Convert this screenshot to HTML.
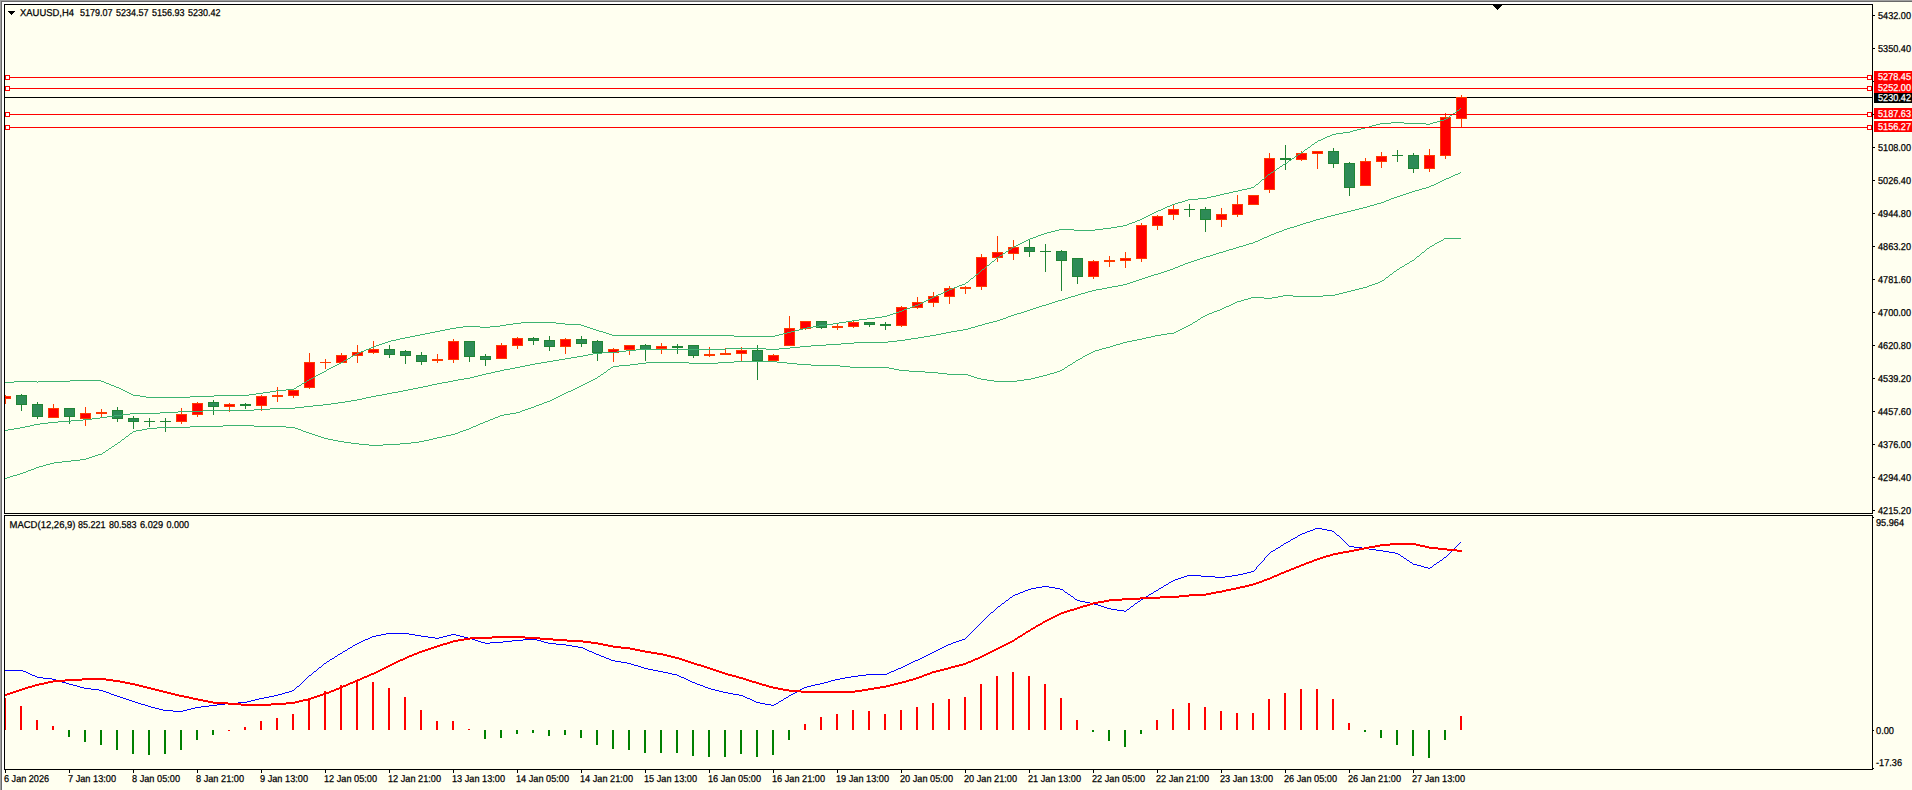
<!DOCTYPE html>
<html><head><meta charset="utf-8"><title>XAUUSD,H4</title>
<style>
html,body{margin:0;padding:0;background:#FFFFF0;overflow:hidden}
svg{display:block}
text{font-family:"Liberation Sans",sans-serif;font-size:10px;text-rendering:geometricPrecision;stroke-width:0.25px;paint-order:stroke fill}
</style></head><body>
<svg width="1912" height="790" viewBox="0 0 1912 790" shape-rendering="crispEdges">
<rect x="0" y="0" width="1912" height="790" fill="#FFFFF0"/>
<rect x="0" y="0" width="1912" height="1" fill="#A0A0A0"/>
<rect x="0" y="1" width="1912" height="1" fill="#696969"/>
<rect x="0" y="0" width="1" height="790" fill="#A0A0A0"/>
<rect x="1" y="1" width="1" height="789" fill="#696969"/>
<rect x="2" y="2" width="1871" height="2" fill="#FFFFFF"/>
<rect x="2" y="2" width="2" height="788" fill="#FFFFFF"/>
<rect x="4" y="4" width="1869" height="1" fill="#000000"/>
<rect x="4" y="4" width="1" height="510" fill="#000000"/>
<rect x="4" y="513" width="1869" height="1" fill="#000000"/>
<rect x="4" y="515" width="1869" height="1" fill="#000000"/>
<rect x="4" y="515" width="1" height="255" fill="#000000"/>
<rect x="4" y="769" width="1869" height="1" fill="#000000"/>
<rect x="1872" y="4" width="1" height="510" fill="#000000"/>
<rect x="1872" y="515" width="1" height="255" fill="#000000"/>
<rect x="1873" y="15" width="2" height="1" fill="#000000"/>
<rect x="1873" y="48" width="2" height="1" fill="#000000"/>
<rect x="1873" y="81" width="2" height="1" fill="#000000"/>
<rect x="1873" y="114" width="2" height="1" fill="#000000"/>
<rect x="1873" y="147" width="2" height="1" fill="#000000"/>
<rect x="1873" y="180" width="2" height="1" fill="#000000"/>
<rect x="1873" y="213" width="2" height="1" fill="#000000"/>
<rect x="1873" y="246" width="2" height="1" fill="#000000"/>
<rect x="1873" y="279" width="2" height="1" fill="#000000"/>
<rect x="1873" y="312" width="2" height="1" fill="#000000"/>
<rect x="1873" y="345" width="2" height="1" fill="#000000"/>
<rect x="1873" y="378" width="2" height="1" fill="#000000"/>
<rect x="1873" y="411" width="2" height="1" fill="#000000"/>
<rect x="1873" y="444" width="2" height="1" fill="#000000"/>
<rect x="1873" y="477" width="2" height="1" fill="#000000"/>
<rect x="1873" y="510" width="2" height="1" fill="#000000"/>
<rect x="1873" y="517" width="1" height="1" fill="#000000"/>
<rect x="1873" y="730" width="1" height="1" fill="#000000"/>
<rect x="1873" y="768" width="1" height="1" fill="#000000"/>
<rect x="5" y="770" width="1" height="3" fill="#000000"/>
<rect x="69" y="770" width="1" height="3" fill="#000000"/>
<rect x="133" y="770" width="1" height="3" fill="#000000"/>
<rect x="197" y="770" width="1" height="3" fill="#000000"/>
<rect x="261" y="770" width="1" height="3" fill="#000000"/>
<rect x="325" y="770" width="1" height="3" fill="#000000"/>
<rect x="389" y="770" width="1" height="3" fill="#000000"/>
<rect x="453" y="770" width="1" height="3" fill="#000000"/>
<rect x="517" y="770" width="1" height="3" fill="#000000"/>
<rect x="581" y="770" width="1" height="3" fill="#000000"/>
<rect x="645" y="770" width="1" height="3" fill="#000000"/>
<rect x="709" y="770" width="1" height="3" fill="#000000"/>
<rect x="773" y="770" width="1" height="3" fill="#000000"/>
<rect x="837" y="770" width="1" height="3" fill="#000000"/>
<rect x="901" y="770" width="1" height="3" fill="#000000"/>
<rect x="965" y="770" width="1" height="3" fill="#000000"/>
<rect x="1029" y="770" width="1" height="3" fill="#000000"/>
<rect x="1093" y="770" width="1" height="3" fill="#000000"/>
<rect x="1157" y="770" width="1" height="3" fill="#000000"/>
<rect x="1221" y="770" width="1" height="3" fill="#000000"/>
<rect x="1285" y="770" width="1" height="3" fill="#000000"/>
<rect x="1349" y="770" width="1" height="3" fill="#000000"/>
<rect x="1413" y="770" width="1" height="3" fill="#000000"/>
<rect x="1493" y="5" width="9" height="1" fill="#000000"/>
<rect x="1494" y="6" width="7" height="1" fill="#000000"/>
<rect x="1495" y="7" width="5" height="1" fill="#000000"/>
<rect x="1496" y="8" width="3" height="1" fill="#000000"/>
<rect x="1497" y="9" width="1" height="1" fill="#000000"/>
<rect x="8" y="11" width="7" height="1" fill="#000000"/>
<rect x="9" y="12" width="5" height="1" fill="#000000"/>
<rect x="10" y="13" width="3" height="1" fill="#000000"/>
<rect x="11" y="14" width="1" height="1" fill="#000000"/>
<rect x="5" y="97" width="1867" height="1" fill="#000000"/>
<rect x="5" y="395" width="1" height="9" fill="#FF3A00"/>
<rect x="5" y="396" width="6" height="3" fill="#FF3A00"/>
<rect x="5" y="397" width="5" height="1" fill="#FF0000"/>
<rect x="21" y="394" width="1" height="17" fill="#1F8434"/>
<rect x="16" y="395" width="11" height="10" fill="#1F8434"/>
<rect x="17" y="396" width="9" height="8" fill="#2E8B57"/>
<rect x="37" y="402" width="1" height="17" fill="#1F8434"/>
<rect x="32" y="404" width="11" height="13" fill="#1F8434"/>
<rect x="33" y="405" width="9" height="11" fill="#2E8B57"/>
<rect x="53" y="404" width="1" height="14" fill="#FF3A00"/>
<rect x="48" y="408" width="11" height="10" fill="#FF3A00"/>
<rect x="49" y="409" width="9" height="8" fill="#FF0000"/>
<rect x="69" y="408" width="1" height="16" fill="#1F8434"/>
<rect x="64" y="408" width="11" height="9" fill="#1F8434"/>
<rect x="65" y="409" width="9" height="7" fill="#2E8B57"/>
<rect x="85" y="407" width="1" height="19" fill="#FF3A00"/>
<rect x="80" y="413" width="11" height="6" fill="#FF3A00"/>
<rect x="81" y="414" width="9" height="4" fill="#FF0000"/>
<rect x="101" y="409" width="1" height="8" fill="#FF3A00"/>
<rect x="96" y="412" width="11" height="2" fill="#FF3A00"/>
<rect x="117" y="407" width="1" height="15" fill="#1F8434"/>
<rect x="112" y="410" width="11" height="9" fill="#1F8434"/>
<rect x="113" y="411" width="9" height="7" fill="#2E8B57"/>
<rect x="133" y="416" width="1" height="13" fill="#1F8434"/>
<rect x="128" y="418" width="11" height="4" fill="#1F8434"/>
<rect x="129" y="419" width="9" height="2" fill="#2E8B57"/>
<rect x="149" y="418" width="1" height="9" fill="#1F8434"/>
<rect x="144" y="421" width="11" height="1" fill="#1F8434"/>
<rect x="165" y="418" width="1" height="14" fill="#1F8434"/>
<rect x="160" y="421" width="11" height="1" fill="#1F8434"/>
<rect x="181" y="408" width="1" height="16" fill="#FF3A00"/>
<rect x="176" y="414" width="11" height="8" fill="#FF3A00"/>
<rect x="177" y="415" width="9" height="6" fill="#FF0000"/>
<rect x="197" y="402" width="1" height="15" fill="#FF3A00"/>
<rect x="192" y="403" width="11" height="12" fill="#FF3A00"/>
<rect x="193" y="404" width="9" height="10" fill="#FF0000"/>
<rect x="213" y="400" width="1" height="15" fill="#1F8434"/>
<rect x="208" y="402" width="11" height="5" fill="#1F8434"/>
<rect x="209" y="403" width="9" height="3" fill="#2E8B57"/>
<rect x="229" y="403" width="1" height="9" fill="#FF3A00"/>
<rect x="224" y="404" width="11" height="3" fill="#FF3A00"/>
<rect x="225" y="405" width="9" height="1" fill="#FF0000"/>
<rect x="245" y="403" width="1" height="6" fill="#1F8434"/>
<rect x="240" y="404" width="11" height="2" fill="#1F8434"/>
<rect x="261" y="395" width="1" height="16" fill="#FF3A00"/>
<rect x="256" y="396" width="11" height="10" fill="#FF3A00"/>
<rect x="257" y="397" width="9" height="8" fill="#FF0000"/>
<rect x="277" y="387" width="1" height="15" fill="#FF3A00"/>
<rect x="272" y="395" width="11" height="2" fill="#FF3A00"/>
<rect x="293" y="390" width="1" height="8" fill="#FF3A00"/>
<rect x="288" y="390" width="11" height="6" fill="#FF3A00"/>
<rect x="289" y="391" width="9" height="4" fill="#FF0000"/>
<rect x="309" y="353" width="1" height="36" fill="#FF3A00"/>
<rect x="304" y="362" width="11" height="26" fill="#FF3A00"/>
<rect x="305" y="363" width="9" height="24" fill="#FF0000"/>
<rect x="325" y="359" width="1" height="10" fill="#FF3A00"/>
<rect x="320" y="362" width="11" height="1" fill="#FF3A00"/>
<rect x="341" y="353" width="1" height="10" fill="#FF3A00"/>
<rect x="336" y="355" width="11" height="8" fill="#FF3A00"/>
<rect x="337" y="356" width="9" height="6" fill="#FF0000"/>
<rect x="357" y="345" width="1" height="18" fill="#FF3A00"/>
<rect x="352" y="352" width="11" height="4" fill="#FF3A00"/>
<rect x="353" y="353" width="9" height="2" fill="#FF0000"/>
<rect x="373" y="341" width="1" height="13" fill="#FF3A00"/>
<rect x="368" y="349" width="11" height="4" fill="#FF3A00"/>
<rect x="369" y="350" width="9" height="2" fill="#FF0000"/>
<rect x="389" y="345" width="1" height="13" fill="#1F8434"/>
<rect x="384" y="349" width="11" height="6" fill="#1F8434"/>
<rect x="385" y="350" width="9" height="4" fill="#2E8B57"/>
<rect x="405" y="350" width="1" height="14" fill="#1F8434"/>
<rect x="400" y="351" width="11" height="5" fill="#1F8434"/>
<rect x="401" y="352" width="9" height="3" fill="#2E8B57"/>
<rect x="421" y="352" width="1" height="13" fill="#1F8434"/>
<rect x="416" y="355" width="11" height="7" fill="#1F8434"/>
<rect x="417" y="356" width="9" height="5" fill="#2E8B57"/>
<rect x="437" y="354" width="1" height="9" fill="#FF3A00"/>
<rect x="432" y="359" width="11" height="2" fill="#FF3A00"/>
<rect x="453" y="339" width="1" height="24" fill="#FF3A00"/>
<rect x="448" y="341" width="11" height="19" fill="#FF3A00"/>
<rect x="449" y="342" width="9" height="17" fill="#FF0000"/>
<rect x="469" y="341" width="1" height="21" fill="#1F8434"/>
<rect x="464" y="341" width="11" height="16" fill="#1F8434"/>
<rect x="465" y="342" width="9" height="14" fill="#2E8B57"/>
<rect x="485" y="354" width="1" height="12" fill="#1F8434"/>
<rect x="480" y="356" width="11" height="4" fill="#1F8434"/>
<rect x="481" y="357" width="9" height="2" fill="#2E8B57"/>
<rect x="501" y="343" width="1" height="16" fill="#FF3A00"/>
<rect x="496" y="345" width="11" height="14" fill="#FF3A00"/>
<rect x="497" y="346" width="9" height="12" fill="#FF0000"/>
<rect x="517" y="337" width="1" height="12" fill="#FF3A00"/>
<rect x="512" y="338" width="11" height="8" fill="#FF3A00"/>
<rect x="513" y="339" width="9" height="6" fill="#FF0000"/>
<rect x="533" y="337" width="1" height="8" fill="#1F8434"/>
<rect x="528" y="338" width="11" height="3" fill="#1F8434"/>
<rect x="529" y="339" width="9" height="1" fill="#2E8B57"/>
<rect x="549" y="336" width="1" height="15" fill="#1F8434"/>
<rect x="544" y="340" width="11" height="7" fill="#1F8434"/>
<rect x="545" y="341" width="9" height="5" fill="#2E8B57"/>
<rect x="565" y="338" width="1" height="16" fill="#FF3A00"/>
<rect x="560" y="339" width="11" height="8" fill="#FF3A00"/>
<rect x="561" y="340" width="9" height="6" fill="#FF0000"/>
<rect x="581" y="336" width="1" height="11" fill="#1F8434"/>
<rect x="576" y="339" width="11" height="5" fill="#1F8434"/>
<rect x="577" y="340" width="9" height="3" fill="#2E8B57"/>
<rect x="597" y="340" width="1" height="21" fill="#1F8434"/>
<rect x="592" y="341" width="11" height="12" fill="#1F8434"/>
<rect x="593" y="342" width="9" height="10" fill="#2E8B57"/>
<rect x="613" y="348" width="1" height="14" fill="#FF3A00"/>
<rect x="608" y="349" width="11" height="4" fill="#FF3A00"/>
<rect x="609" y="350" width="9" height="2" fill="#FF0000"/>
<rect x="629" y="345" width="1" height="10" fill="#FF3A00"/>
<rect x="624" y="345" width="11" height="5" fill="#FF3A00"/>
<rect x="625" y="346" width="9" height="3" fill="#FF0000"/>
<rect x="645" y="344" width="1" height="17" fill="#1F8434"/>
<rect x="640" y="345" width="11" height="5" fill="#1F8434"/>
<rect x="641" y="346" width="9" height="3" fill="#2E8B57"/>
<rect x="661" y="343" width="1" height="11" fill="#FF3A00"/>
<rect x="656" y="346" width="11" height="3" fill="#FF3A00"/>
<rect x="657" y="347" width="9" height="1" fill="#FF0000"/>
<rect x="677" y="344" width="1" height="10" fill="#1F8434"/>
<rect x="672" y="346" width="11" height="2" fill="#1F8434"/>
<rect x="693" y="345" width="1" height="13" fill="#1F8434"/>
<rect x="688" y="345" width="11" height="11" fill="#1F8434"/>
<rect x="689" y="346" width="9" height="9" fill="#2E8B57"/>
<rect x="709" y="347" width="1" height="10" fill="#FF3A00"/>
<rect x="704" y="354" width="11" height="2" fill="#FF3A00"/>
<rect x="725" y="348" width="1" height="7" fill="#FF3A00"/>
<rect x="720" y="353" width="11" height="2" fill="#FF3A00"/>
<rect x="741" y="347" width="1" height="14" fill="#FF3A00"/>
<rect x="736" y="350" width="11" height="4" fill="#FF3A00"/>
<rect x="737" y="351" width="9" height="2" fill="#FF0000"/>
<rect x="757" y="345" width="1" height="35" fill="#1F8434"/>
<rect x="752" y="350" width="11" height="11" fill="#1F8434"/>
<rect x="753" y="351" width="9" height="9" fill="#2E8B57"/>
<rect x="773" y="354" width="1" height="7" fill="#FF3A00"/>
<rect x="768" y="355" width="11" height="6" fill="#FF3A00"/>
<rect x="769" y="356" width="9" height="4" fill="#FF0000"/>
<rect x="789" y="316" width="1" height="30" fill="#FF3A00"/>
<rect x="784" y="328" width="11" height="18" fill="#FF3A00"/>
<rect x="785" y="329" width="9" height="16" fill="#FF0000"/>
<rect x="805" y="321" width="1" height="9" fill="#FF3A00"/>
<rect x="800" y="321" width="11" height="8" fill="#FF3A00"/>
<rect x="801" y="322" width="9" height="6" fill="#FF0000"/>
<rect x="821" y="321" width="1" height="8" fill="#1F8434"/>
<rect x="816" y="321" width="11" height="7" fill="#1F8434"/>
<rect x="817" y="322" width="9" height="5" fill="#2E8B57"/>
<rect x="837" y="324" width="1" height="6" fill="#FF3A00"/>
<rect x="832" y="326" width="11" height="2" fill="#FF3A00"/>
<rect x="853" y="321" width="1" height="7" fill="#FF3A00"/>
<rect x="848" y="322" width="11" height="5" fill="#FF3A00"/>
<rect x="849" y="323" width="9" height="3" fill="#FF0000"/>
<rect x="869" y="322" width="1" height="5" fill="#1F8434"/>
<rect x="864" y="322" width="11" height="3" fill="#1F8434"/>
<rect x="865" y="323" width="9" height="1" fill="#2E8B57"/>
<rect x="885" y="322" width="1" height="8" fill="#1F8434"/>
<rect x="880" y="324" width="11" height="2" fill="#1F8434"/>
<rect x="901" y="306" width="1" height="21" fill="#FF3A00"/>
<rect x="896" y="307" width="11" height="19" fill="#FF3A00"/>
<rect x="897" y="308" width="9" height="17" fill="#FF0000"/>
<rect x="917" y="297" width="1" height="12" fill="#FF3A00"/>
<rect x="912" y="302" width="11" height="6" fill="#FF3A00"/>
<rect x="913" y="303" width="9" height="4" fill="#FF0000"/>
<rect x="933" y="292" width="1" height="15" fill="#FF3A00"/>
<rect x="928" y="296" width="11" height="7" fill="#FF3A00"/>
<rect x="929" y="297" width="9" height="5" fill="#FF0000"/>
<rect x="949" y="286" width="1" height="18" fill="#FF3A00"/>
<rect x="944" y="288" width="11" height="9" fill="#FF3A00"/>
<rect x="945" y="289" width="9" height="7" fill="#FF0000"/>
<rect x="965" y="286" width="1" height="8" fill="#FF3A00"/>
<rect x="960" y="287" width="11" height="2" fill="#FF3A00"/>
<rect x="981" y="254" width="1" height="36" fill="#FF3A00"/>
<rect x="976" y="257" width="11" height="30" fill="#FF3A00"/>
<rect x="977" y="258" width="9" height="28" fill="#FF0000"/>
<rect x="997" y="236" width="1" height="26" fill="#FF3A00"/>
<rect x="992" y="252" width="11" height="6" fill="#FF3A00"/>
<rect x="993" y="253" width="9" height="4" fill="#FF0000"/>
<rect x="1013" y="240" width="1" height="20" fill="#FF3A00"/>
<rect x="1008" y="247" width="11" height="7" fill="#FF3A00"/>
<rect x="1009" y="248" width="9" height="5" fill="#FF0000"/>
<rect x="1029" y="239" width="1" height="18" fill="#1F8434"/>
<rect x="1024" y="247" width="11" height="5" fill="#1F8434"/>
<rect x="1025" y="248" width="9" height="3" fill="#2E8B57"/>
<rect x="1045" y="244" width="1" height="28" fill="#1F8434"/>
<rect x="1040" y="251" width="11" height="1" fill="#1F8434"/>
<rect x="1061" y="250" width="1" height="41" fill="#1F8434"/>
<rect x="1056" y="251" width="11" height="10" fill="#1F8434"/>
<rect x="1057" y="252" width="9" height="8" fill="#2E8B57"/>
<rect x="1077" y="258" width="1" height="26" fill="#1F8434"/>
<rect x="1072" y="258" width="11" height="19" fill="#1F8434"/>
<rect x="1073" y="259" width="9" height="17" fill="#2E8B57"/>
<rect x="1093" y="260" width="1" height="19" fill="#FF3A00"/>
<rect x="1088" y="261" width="11" height="16" fill="#FF3A00"/>
<rect x="1089" y="262" width="9" height="14" fill="#FF0000"/>
<rect x="1109" y="256" width="1" height="11" fill="#FF3A00"/>
<rect x="1104" y="260" width="11" height="2" fill="#FF3A00"/>
<rect x="1125" y="252" width="1" height="16" fill="#FF3A00"/>
<rect x="1120" y="258" width="11" height="3" fill="#FF3A00"/>
<rect x="1121" y="259" width="9" height="1" fill="#FF0000"/>
<rect x="1141" y="223" width="1" height="39" fill="#FF3A00"/>
<rect x="1136" y="225" width="11" height="34" fill="#FF3A00"/>
<rect x="1137" y="226" width="9" height="32" fill="#FF0000"/>
<rect x="1157" y="215" width="1" height="15" fill="#FF3A00"/>
<rect x="1152" y="216" width="11" height="10" fill="#FF3A00"/>
<rect x="1153" y="217" width="9" height="8" fill="#FF0000"/>
<rect x="1173" y="205" width="1" height="15" fill="#FF3A00"/>
<rect x="1168" y="209" width="11" height="6" fill="#FF3A00"/>
<rect x="1169" y="210" width="9" height="4" fill="#FF0000"/>
<rect x="1189" y="204" width="1" height="13" fill="#1F8434"/>
<rect x="1184" y="209" width="11" height="1" fill="#1F8434"/>
<rect x="1205" y="207" width="1" height="25" fill="#1F8434"/>
<rect x="1200" y="209" width="11" height="11" fill="#1F8434"/>
<rect x="1201" y="210" width="9" height="9" fill="#2E8B57"/>
<rect x="1221" y="208" width="1" height="19" fill="#FF3A00"/>
<rect x="1216" y="214" width="11" height="6" fill="#FF3A00"/>
<rect x="1217" y="215" width="9" height="4" fill="#FF0000"/>
<rect x="1237" y="195" width="1" height="22" fill="#FF3A00"/>
<rect x="1232" y="204" width="11" height="11" fill="#FF3A00"/>
<rect x="1233" y="205" width="9" height="9" fill="#FF0000"/>
<rect x="1253" y="195" width="1" height="10" fill="#FF3A00"/>
<rect x="1248" y="195" width="11" height="10" fill="#FF3A00"/>
<rect x="1249" y="196" width="9" height="8" fill="#FF0000"/>
<rect x="1269" y="153" width="1" height="40" fill="#FF3A00"/>
<rect x="1264" y="158" width="11" height="32" fill="#FF3A00"/>
<rect x="1265" y="159" width="9" height="30" fill="#FF0000"/>
<rect x="1285" y="145" width="1" height="25" fill="#1F8434"/>
<rect x="1280" y="158" width="11" height="2" fill="#1F8434"/>
<rect x="1301" y="151" width="1" height="10" fill="#FF3A00"/>
<rect x="1296" y="153" width="11" height="7" fill="#FF3A00"/>
<rect x="1297" y="154" width="9" height="5" fill="#FF0000"/>
<rect x="1317" y="151" width="1" height="18" fill="#FF3A00"/>
<rect x="1312" y="151" width="11" height="3" fill="#FF3A00"/>
<rect x="1313" y="152" width="9" height="1" fill="#FF0000"/>
<rect x="1333" y="148" width="1" height="20" fill="#1F8434"/>
<rect x="1328" y="151" width="11" height="13" fill="#1F8434"/>
<rect x="1329" y="152" width="9" height="11" fill="#2E8B57"/>
<rect x="1349" y="162" width="1" height="34" fill="#1F8434"/>
<rect x="1344" y="163" width="11" height="25" fill="#1F8434"/>
<rect x="1345" y="164" width="9" height="23" fill="#2E8B57"/>
<rect x="1365" y="158" width="1" height="28" fill="#FF3A00"/>
<rect x="1360" y="161" width="11" height="25" fill="#FF3A00"/>
<rect x="1361" y="162" width="9" height="23" fill="#FF0000"/>
<rect x="1381" y="152" width="1" height="16" fill="#FF3A00"/>
<rect x="1376" y="156" width="11" height="6" fill="#FF3A00"/>
<rect x="1377" y="157" width="9" height="4" fill="#FF0000"/>
<rect x="1397" y="150" width="1" height="12" fill="#1F8434"/>
<rect x="1392" y="155" width="11" height="1" fill="#1F8434"/>
<rect x="1413" y="153" width="1" height="20" fill="#1F8434"/>
<rect x="1408" y="155" width="11" height="14" fill="#1F8434"/>
<rect x="1409" y="156" width="9" height="12" fill="#2E8B57"/>
<rect x="1429" y="149" width="1" height="23" fill="#FF3A00"/>
<rect x="1424" y="155" width="11" height="14" fill="#FF3A00"/>
<rect x="1425" y="156" width="9" height="12" fill="#FF0000"/>
<rect x="1445" y="113" width="1" height="46" fill="#FF3A00"/>
<rect x="1440" y="117" width="11" height="39" fill="#FF3A00"/>
<rect x="1441" y="118" width="9" height="37" fill="#FF0000"/>
<rect x="1461" y="95" width="1" height="32" fill="#FF3A00"/>
<rect x="1456" y="97" width="11" height="22" fill="#FF3A00"/>
<rect x="1457" y="98" width="9" height="20" fill="#FF0000"/>
<path d="M5 382h9v1h-9zM14 381h23v1h-23zM37 382h1v1h-1zM38 381h32v1h-32zM70 380h31v1h-31zM101 381h3v1h-3zM104 382h2v1h-2zM106 383h3v1h-3zM109 384h2v1h-2zM111 385h3v1h-3zM114 386h2v1h-2zM116 387h3v1h-3zM119 388h2v1h-2zM121 389h2v1h-2zM123 390h2v1h-2zM125 391h2v1h-2zM127 392h2v1h-2zM129 393h2v1h-2zM131 394h2v1h-2zM133 395h7v1h-7zM140 396h6v1h-6zM146 397h44v1h-44zM190 396h24v1h-24zM214 395h35v1h-35zM249 394h7v1h-7zM256 393h7v1h-7zM263 392h7v1h-7zM270 391h6v1h-6zM276 390h10v1h-10zM286 389h8v1h-8zM294 388h2v1h-2zM296 387h1v1h-1zM297 386h2v1h-2zM299 385h2v1h-2zM301 384h1v1h-1zM302 383h2v1h-2zM304 382h2v1h-2zM306 381h1v1h-1zM307 380h2v1h-2zM309 379h2v1h-2zM311 378h2v1h-2zM313 377h2v1h-2zM315 376h1v1h-1zM316 375h2v1h-2zM318 374h2v1h-2zM320 373h2v1h-2zM322 372h2v1h-2zM324 371h2v1h-2zM326 370h1v1h-1zM327 369h2v1h-2zM329 368h2v1h-2zM331 367h2v1h-2zM333 366h2v1h-2zM335 365h2v1h-2zM337 364h2v1h-2zM339 363h2v1h-2zM341 362h2v1h-2zM343 361h1v1h-1zM344 360h2v1h-2zM346 359h2v1h-2zM348 358h2v1h-2zM350 357h1v1h-1zM351 356h2v1h-2zM353 355h2v1h-2zM355 354h2v1h-2zM357 353h2v1h-2zM359 352h2v1h-2zM361 351h3v1h-3zM364 350h2v1h-2zM366 349h3v1h-3zM369 348h2v1h-2zM371 347h3v1h-3zM374 346h2v1h-2zM376 345h3v1h-3zM379 344h3v1h-3zM382 343h3v1h-3zM385 342h3v1h-3zM388 341h3v1h-3zM391 340h5v1h-5zM396 339h4v1h-4zM400 338h5v1h-5zM405 337h5v1h-5zM410 336h5v1h-5zM415 335h5v1h-5zM420 334h5v1h-5zM425 333h5v1h-5zM430 332h5v1h-5zM435 331h5v1h-5zM440 330h5v1h-5zM445 329h5v1h-5zM450 328h6v1h-6zM456 327h7v1h-7zM463 326h17v1h-17zM480 327h10v1h-10zM490 326h10v1h-10zM500 325h6v1h-6zM506 324h7v1h-7zM513 323h8v1h-8zM521 322h35v1h-35zM556 323h9v1h-9zM565 324h16v1h-16zM581 325h3v1h-3zM584 326h3v1h-3zM587 327h3v1h-3zM590 328h3v1h-3zM593 329h3v1h-3zM596 330h3v1h-3zM599 331h4v1h-4zM603 332h3v1h-3zM606 333h3v1h-3zM609 334h3v1h-3zM612 335h122v1h-122zM734 336h41v1h-41zM775 335h4v1h-4zM779 334h4v1h-4zM783 333h4v1h-4zM787 332h4v1h-4zM791 331h4v1h-4zM795 330h4v1h-4zM799 329h4v1h-4zM803 328h4v1h-4zM807 327h6v1h-6zM813 326h6v1h-6zM819 325h7v1h-7zM826 324h7v1h-7zM833 323h6v1h-6zM839 322h7v1h-7zM846 321h6v1h-6zM852 320h7v1h-7zM859 319h8v1h-8zM867 318h8v1h-8zM875 317h7v1h-7zM882 316h5v1h-5zM887 315h3v1h-3zM890 314h3v1h-3zM893 313h3v1h-3zM896 312h3v1h-3zM899 311h3v1h-3zM902 310h2v1h-2zM904 309h3v1h-3zM907 308h3v1h-3zM910 307h2v1h-2zM912 306h3v1h-3zM915 305h3v1h-3zM918 304h2v1h-2zM920 303h2v1h-2zM922 302h2v1h-2zM924 301h2v1h-2zM926 300h2v1h-2zM928 299h2v1h-2zM930 298h2v1h-2zM932 297h2v1h-2zM934 296h2v1h-2zM936 295h2v1h-2zM938 294h3v1h-3zM941 293h2v1h-2zM943 292h2v1h-2zM945 291h2v1h-2zM947 290h2v1h-2zM949 289h3v1h-3zM952 288h2v1h-2zM954 287h3v1h-3zM957 286h2v1h-2zM959 285h3v1h-3zM962 284h3v1h-3zM965 283h1v1h-1zM966 282h2v1h-2zM968 281h1v1h-1zM969 280h1v1h-1zM970 279h1v1h-1zM971 278h2v1h-2zM973 277h1v1h-1zM974 276h1v1h-1zM975 275h1v1h-1zM976 274h2v1h-2zM978 273h1v1h-1zM979 272h1v1h-1zM980 271h1v1h-1zM981 270h1v1h-1zM982 269h2v1h-2zM984 268h1v1h-1zM985 267h1v1h-1zM986 266h1v1h-1zM987 265h2v1h-2zM989 264h1v1h-1zM990 263h1v1h-1zM991 262h1v1h-1zM992 261h2v1h-2zM994 260h1v1h-1zM995 259h1v1h-1zM996 258h1v1h-1zM997 257h2v1h-2zM999 256h1v1h-1zM1000 255h2v1h-2zM1002 254h1v1h-1zM1003 253h2v1h-2zM1005 252h1v1h-1zM1006 251h2v1h-2zM1008 250h1v1h-1zM1009 249h2v1h-2zM1011 248h1v1h-1zM1012 247h2v1h-2zM1014 246h2v1h-2zM1016 245h2v1h-2zM1018 244h2v1h-2zM1020 243h2v1h-2zM1022 242h2v1h-2zM1024 241h2v1h-2zM1026 240h2v1h-2zM1028 239h2v1h-2zM1030 238h3v1h-3zM1033 237h3v1h-3zM1036 236h2v1h-2zM1038 235h3v1h-3zM1041 234h3v1h-3zM1044 233h3v1h-3zM1047 232h4v1h-4zM1051 231h4v1h-4zM1055 230h4v1h-4zM1059 229h15v1h-15zM1074 230h21v1h-21zM1095 229h8v1h-8zM1103 228h8v1h-8zM1111 227h6v1h-6zM1117 226h6v1h-6zM1123 225h4v1h-4zM1127 224h2v1h-2zM1129 223h3v1h-3zM1132 222h3v1h-3zM1135 221h2v1h-2zM1137 220h3v1h-3zM1140 219h2v1h-2zM1142 218h2v1h-2zM1144 217h2v1h-2zM1146 216h2v1h-2zM1148 215h2v1h-2zM1150 214h2v1h-2zM1152 213h2v1h-2zM1154 212h2v1h-2zM1156 211h2v1h-2zM1158 210h3v1h-3zM1161 209h2v1h-2zM1163 208h2v1h-2zM1165 207h2v1h-2zM1167 206h3v1h-3zM1170 205h2v1h-2zM1172 204h3v1h-3zM1175 203h3v1h-3zM1178 202h4v1h-4zM1182 201h3v1h-3zM1185 200h3v1h-3zM1188 199h10v1h-10zM1198 198h9v1h-9zM1207 197h4v1h-4zM1211 196h5v1h-5zM1216 195h4v1h-4zM1220 194h4v1h-4zM1224 193h5v1h-5zM1229 192h4v1h-4zM1233 191h5v1h-5zM1238 190h4v1h-4zM1242 189h5v1h-5zM1247 188h4v1h-4zM1251 187h3v1h-3zM1254 186h1v1h-1zM1255 185h1v1h-1zM1256 184h2v1h-2zM1258 183h1v1h-1zM1259 182h1v1h-1zM1260 181h1v1h-1zM1261 180h1v1h-1zM1262 179h2v1h-2zM1264 178h1v1h-1zM1265 177h1v1h-1zM1266 176h1v1h-1zM1267 175h1v1h-1zM1268 174h2v1h-2zM1270 173h1v1h-1zM1271 172h2v1h-2zM1273 171h1v1h-1zM1274 170h2v1h-2zM1276 169h1v1h-1zM1277 168h2v1h-2zM1279 167h1v1h-1zM1280 166h2v1h-2zM1282 165h1v1h-1zM1283 164h2v1h-2zM1285 163h2v1h-2zM1287 162h1v1h-1zM1288 161h1v1h-1zM1289 160h2v1h-2zM1291 159h1v1h-1zM1292 158h2v1h-2zM1294 157h1v1h-1zM1295 156h2v1h-2zM1297 155h1v1h-1zM1298 154h2v1h-2zM1300 153h1v1h-1zM1301 152h2v1h-2zM1303 151h1v1h-1zM1304 150h1v1h-1zM1305 149h2v1h-2zM1307 148h1v1h-1zM1308 147h2v1h-2zM1310 146h1v1h-1zM1311 145h1v1h-1zM1312 144h2v1h-2zM1314 143h1v1h-1zM1315 142h2v1h-2zM1317 141h1v1h-1zM1318 140h3v1h-3zM1321 139h2v1h-2zM1323 138h2v1h-2zM1325 137h2v1h-2zM1327 136h3v1h-3zM1330 135h2v1h-2zM1332 134h4v1h-4zM1336 133h7v1h-7zM1343 132h7v1h-7zM1350 131h3v1h-3zM1353 130h4v1h-4zM1357 129h4v1h-4zM1361 128h4v1h-4zM1365 127h4v1h-4zM1369 126h3v1h-3zM1372 125h4v1h-4zM1376 124h4v1h-4zM1380 123h11v1h-11zM1391 122h13v1h-13zM1404 123h22v1h-22zM1426 124h4v1h-4zM1430 123h3v1h-3zM1433 122h4v1h-4zM1437 121h3v1h-3zM1440 120h4v1h-4zM1444 119h2v1h-2zM1446 118h2v1h-2zM1448 117h1v1h-1zM1449 116h1v1h-1zM1450 115h2v1h-2zM1452 114h1v1h-1zM1453 113h2v1h-2zM1455 112h1v1h-1zM1456 111h1v1h-1zM1457 110h2v1h-2zM1459 109h1v1h-1zM1460 108h1v1h-1z" fill="#3CB371"/>
<path d="M5 430h3v1h-3zM8 429h6v1h-6zM14 428h6v1h-6zM20 427h5v1h-5zM25 426h5v1h-5zM30 425h4v1h-4zM34 424h6v1h-6zM40 423h8v1h-8zM48 422h10v1h-10zM58 421h13v1h-13zM71 420h12v1h-12zM83 419h9v1h-9zM92 418h8v1h-8zM100 417h7v1h-7zM107 416h7v1h-7zM114 415h8v1h-8zM122 414h8v1h-8zM130 413h30v1h-30zM160 412h18v1h-18zM178 411h25v1h-25zM203 410h51v1h-51zM254 409h16v1h-16zM270 408h25v1h-25zM295 407h9v1h-9zM304 406h9v1h-9zM313 405h10v1h-10zM323 404h8v1h-8zM331 403h7v1h-7zM338 402h7v1h-7zM345 401h6v1h-6zM351 400h6v1h-6zM357 399h5v1h-5zM362 398h4v1h-4zM366 397h5v1h-5zM371 396h5v1h-5zM376 395h6v1h-6zM382 394h5v1h-5zM387 393h5v1h-5zM392 392h6v1h-6zM398 391h5v1h-5zM403 390h5v1h-5zM408 389h5v1h-5zM413 388h5v1h-5zM418 387h5v1h-5zM423 386h5v1h-5zM428 385h4v1h-4zM432 384h5v1h-5zM437 383h5v1h-5zM442 382h6v1h-6zM448 381h5v1h-5zM453 380h5v1h-5zM458 379h6v1h-6zM464 378h6v1h-6zM470 377h4v1h-4zM474 376h4v1h-4zM478 375h4v1h-4zM482 374h4v1h-4zM486 373h5v1h-5zM491 372h4v1h-4zM495 371h5v1h-5zM500 370h4v1h-4zM504 369h6v1h-6zM510 368h5v1h-5zM515 367h5v1h-5zM520 366h5v1h-5zM525 365h5v1h-5zM530 364h5v1h-5zM535 363h6v1h-6zM541 362h6v1h-6zM547 361h6v1h-6zM553 360h6v1h-6zM559 359h6v1h-6zM565 358h6v1h-6zM571 357h6v1h-6zM577 356h6v1h-6zM583 355h5v1h-5zM588 354h5v1h-5zM593 353h9v1h-9zM602 352h15v1h-15zM617 351h9v1h-9zM626 350h10v1h-10zM636 349h90v1h-90zM726 348h40v1h-40zM766 349h13v1h-13zM779 348h11v1h-11zM790 347h10v1h-10zM800 346h11v1h-11zM811 345h15v1h-15zM826 344h15v1h-15zM841 343h13v1h-13zM854 342h34v1h-34zM888 341h9v1h-9zM897 340h8v1h-8zM905 339h6v1h-6zM911 338h7v1h-7zM918 337h6v1h-6zM924 336h6v1h-6zM930 335h6v1h-6zM936 334h5v1h-5zM941 333h5v1h-5zM946 332h5v1h-5zM951 331h6v1h-6zM957 330h6v1h-6zM963 329h5v1h-5zM968 328h3v1h-3zM971 327h4v1h-4zM975 326h3v1h-3zM978 325h4v1h-4zM982 324h3v1h-3zM985 323h4v1h-4zM989 322h4v1h-4zM993 321h4v1h-4zM997 320h3v1h-3zM1000 319h3v1h-3zM1003 318h3v1h-3zM1006 317h2v1h-2zM1008 316h3v1h-3zM1011 315h3v1h-3zM1014 314h3v1h-3zM1017 313h4v1h-4zM1021 312h3v1h-3zM1024 311h3v1h-3zM1027 310h3v1h-3zM1030 309h3v1h-3zM1033 308h3v1h-3zM1036 307h3v1h-3zM1039 306h3v1h-3zM1042 305h4v1h-4zM1046 304h3v1h-3zM1049 303h3v1h-3zM1052 302h3v1h-3zM1055 301h3v1h-3zM1058 300h4v1h-4zM1062 299h3v1h-3zM1065 298h3v1h-3zM1068 297h3v1h-3zM1071 296h4v1h-4zM1075 295h3v1h-3zM1078 294h3v1h-3zM1081 293h4v1h-4zM1085 292h3v1h-3zM1088 291h4v1h-4zM1092 290h4v1h-4zM1096 289h6v1h-6zM1102 288h5v1h-5zM1107 287h5v1h-5zM1112 286h6v1h-6zM1118 285h5v1h-5zM1123 284h4v1h-4zM1127 283h3v1h-3zM1130 282h3v1h-3zM1133 281h3v1h-3zM1136 280h3v1h-3zM1139 279h3v1h-3zM1142 278h3v1h-3zM1145 277h3v1h-3zM1148 276h3v1h-3zM1151 275h3v1h-3zM1154 274h4v1h-4zM1158 273h3v1h-3zM1161 272h3v1h-3zM1164 271h3v1h-3zM1167 270h3v1h-3zM1170 269h3v1h-3zM1173 268h2v1h-2zM1175 267h3v1h-3zM1178 266h2v1h-2zM1180 265h3v1h-3zM1183 264h2v1h-2zM1185 263h3v1h-3zM1188 262h3v1h-3zM1191 261h3v1h-3zM1194 260h3v1h-3zM1197 259h3v1h-3zM1200 258h3v1h-3zM1203 257h3v1h-3zM1206 256h4v1h-4zM1210 255h3v1h-3zM1213 254h3v1h-3zM1216 253h3v1h-3zM1219 252h4v1h-4zM1223 251h3v1h-3zM1226 250h3v1h-3zM1229 249h4v1h-4zM1233 248h3v1h-3zM1236 247h3v1h-3zM1239 246h4v1h-4zM1243 245h3v1h-3zM1246 244h3v1h-3zM1249 243h4v1h-4zM1253 242h2v1h-2zM1255 241h3v1h-3zM1258 240h2v1h-2zM1260 239h2v1h-2zM1262 238h2v1h-2zM1264 237h3v1h-3zM1267 236h2v1h-2zM1269 235h2v1h-2zM1271 234h3v1h-3zM1274 233h2v1h-2zM1276 232h3v1h-3zM1279 231h3v1h-3zM1282 230h2v1h-2zM1284 229h3v1h-3zM1287 228h3v1h-3zM1290 227h4v1h-4zM1294 226h3v1h-3zM1297 225h3v1h-3zM1300 224h3v1h-3zM1303 223h3v1h-3zM1306 222h4v1h-4zM1310 221h3v1h-3zM1313 220h3v1h-3zM1316 219h4v1h-4zM1320 218h4v1h-4zM1324 217h3v1h-3zM1327 216h4v1h-4zM1331 215h4v1h-4zM1335 214h4v1h-4zM1339 213h4v1h-4zM1343 212h4v1h-4zM1347 211h4v1h-4zM1351 210h4v1h-4zM1355 209h4v1h-4zM1359 208h4v1h-4zM1363 207h4v1h-4zM1367 206h3v1h-3zM1370 205h4v1h-4zM1374 204h3v1h-3zM1377 203h4v1h-4zM1381 202h3v1h-3zM1384 201h2v1h-2zM1386 200h3v1h-3zM1389 199h2v1h-2zM1391 198h3v1h-3zM1394 197h3v1h-3zM1397 196h3v1h-3zM1400 195h3v1h-3zM1403 194h3v1h-3zM1406 193h3v1h-3zM1409 192h3v1h-3zM1412 191h3v1h-3zM1415 190h4v1h-4zM1419 189h3v1h-3zM1422 188h4v1h-4zM1426 187h3v1h-3zM1429 186h2v1h-2zM1431 185h3v1h-3zM1434 184h2v1h-2zM1436 183h2v1h-2zM1438 182h2v1h-2zM1440 181h2v1h-2zM1442 180h2v1h-2zM1444 179h2v1h-2zM1446 178h3v1h-3zM1449 177h2v1h-2zM1451 176h2v1h-2zM1453 175h2v1h-2zM1455 174h3v1h-3zM1458 173h2v1h-2zM1460 172h1v1h-1z" fill="#3CB371"/>
<path d="M5 478h2v1h-2zM7 477h3v1h-3zM10 476h3v1h-3zM13 475h4v1h-4zM17 474h3v1h-3zM20 473h3v1h-3zM23 472h3v1h-3zM26 471h2v1h-2zM28 470h3v1h-3zM31 469h3v1h-3zM34 468h2v1h-2zM36 467h3v1h-3zM39 466h4v1h-4zM43 465h3v1h-3zM46 464h4v1h-4zM50 463h4v1h-4zM54 462h8v1h-8zM62 461h9v1h-9zM71 460h9v1h-9zM80 459h6v1h-6zM86 458h3v1h-3zM89 457h3v1h-3zM92 456h3v1h-3zM95 455h3v1h-3zM98 454h4v1h-4zM102 453h1v1h-1zM103 452h2v1h-2zM105 451h1v1h-1zM106 450h2v1h-2zM108 449h1v1h-1zM109 448h2v1h-2zM111 447h1v1h-1zM112 446h2v1h-2zM114 445h1v1h-1zM115 444h2v1h-2zM117 443h1v1h-1zM118 442h2v1h-2zM120 441h1v1h-1zM121 440h1v1h-1zM122 439h2v1h-2zM124 438h1v1h-1zM125 437h1v1h-1zM126 436h2v1h-2zM128 435h1v1h-1zM129 434h1v1h-1zM130 433h2v1h-2zM132 432h1v1h-1zM133 431h3v1h-3zM136 430h6v1h-6zM142 429h5v1h-5zM147 428h10v1h-10zM157 427h33v1h-33zM190 426h33v1h-33zM223 425h31v1h-31zM254 426h32v1h-32zM286 427h9v1h-9zM295 428h3v1h-3zM298 429h3v1h-3zM301 430h2v1h-2zM303 431h3v1h-3zM306 432h3v1h-3zM309 433h3v1h-3zM312 434h3v1h-3zM315 435h3v1h-3zM318 436h3v1h-3zM321 437h3v1h-3zM324 438h4v1h-4zM328 439h5v1h-5zM333 440h5v1h-5zM338 441h6v1h-6zM344 442h7v1h-7zM351 443h8v1h-8zM359 444h10v1h-10zM369 445h14v1h-14zM383 444h17v1h-17zM400 443h11v1h-11zM411 442h8v1h-8zM419 441h5v1h-5zM424 440h5v1h-5zM429 439h4v1h-4zM433 438h4v1h-4zM437 437h5v1h-5zM442 436h4v1h-4zM446 435h5v1h-5zM451 434h4v1h-4zM455 433h3v1h-3zM458 432h2v1h-2zM460 431h3v1h-3zM463 430h3v1h-3zM466 429h3v1h-3zM469 428h2v1h-2zM471 427h2v1h-2zM473 426h3v1h-3zM476 425h2v1h-2zM478 424h2v1h-2zM480 423h3v1h-3zM483 422h2v1h-2zM485 421h3v1h-3zM488 420h2v1h-2zM490 419h3v1h-3zM493 418h2v1h-2zM495 417h3v1h-3zM498 416h2v1h-2zM500 415h4v1h-4zM504 414h6v1h-6zM510 413h6v1h-6zM516 412h4v1h-4zM520 411h2v1h-2zM522 410h3v1h-3zM525 409h3v1h-3zM528 408h3v1h-3zM531 407h3v1h-3zM534 406h2v1h-2zM536 405h3v1h-3zM539 404h3v1h-3zM542 403h2v1h-2zM544 402h3v1h-3zM547 401h3v1h-3zM550 400h2v1h-2zM552 399h2v1h-2zM554 398h2v1h-2zM556 397h2v1h-2zM558 396h2v1h-2zM560 395h2v1h-2zM562 394h2v1h-2zM564 393h2v1h-2zM566 392h2v1h-2zM568 391h3v1h-3zM571 390h2v1h-2zM573 389h2v1h-2zM575 388h2v1h-2zM577 387h2v1h-2zM579 386h2v1h-2zM581 385h2v1h-2zM583 384h2v1h-2zM585 383h2v1h-2zM587 382h2v1h-2zM589 381h2v1h-2zM591 380h2v1h-2zM593 379h2v1h-2zM595 378h2v1h-2zM597 377h1v1h-1zM598 376h2v1h-2zM600 375h1v1h-1zM601 374h2v1h-2zM603 373h1v1h-1zM604 372h2v1h-2zM606 371h1v1h-1zM607 370h1v1h-1zM608 369h2v1h-2zM610 368h1v1h-1zM611 367h2v1h-2zM613 366h6v1h-6zM619 365h11v1h-11zM630 364h8v1h-8zM638 363h8v1h-8zM646 362h43v1h-43zM689 363h29v1h-29zM718 362h16v1h-16zM734 361h43v1h-43zM777 362h10v1h-10zM787 363h10v1h-10zM797 364h14v1h-14zM811 365h29v1h-29zM840 366h10v1h-10zM850 367h39v1h-39zM889 368h5v1h-5zM894 369h5v1h-5zM899 370h10v1h-10zM909 371h16v1h-16zM925 372h13v1h-13zM938 373h9v1h-9zM947 374h21v1h-21zM968 375h3v1h-3zM971 376h3v1h-3zM974 377h3v1h-3zM977 378h4v1h-4zM981 379h6v1h-6zM987 380h7v1h-7zM994 381h23v1h-23zM1017 380h7v1h-7zM1024 379h7v1h-7zM1031 378h4v1h-4zM1035 377h4v1h-4zM1039 376h4v1h-4zM1043 375h4v1h-4zM1047 374h3v1h-3zM1050 373h4v1h-4zM1054 372h3v1h-3zM1057 371h3v1h-3zM1060 370h2v1h-2zM1062 369h2v1h-2zM1064 368h1v1h-1zM1065 367h2v1h-2zM1067 366h1v1h-1zM1068 365h2v1h-2zM1070 364h2v1h-2zM1072 363h1v1h-1zM1073 362h2v1h-2zM1075 361h1v1h-1zM1076 360h2v1h-2zM1078 359h2v1h-2zM1080 358h2v1h-2zM1082 357h1v1h-1zM1083 356h2v1h-2zM1085 355h2v1h-2zM1087 354h2v1h-2zM1089 353h2v1h-2zM1091 352h2v1h-2zM1093 351h2v1h-2zM1095 350h4v1h-4zM1099 349h3v1h-3zM1102 348h4v1h-4zM1106 347h4v1h-4zM1110 346h3v1h-3zM1113 345h3v1h-3zM1116 344h4v1h-4zM1120 343h3v1h-3zM1123 342h4v1h-4zM1127 341h5v1h-5zM1132 340h5v1h-5zM1137 339h5v1h-5zM1142 338h4v1h-4zM1146 337h5v1h-5zM1151 336h4v1h-4zM1155 335h6v1h-6zM1161 334h6v1h-6zM1167 333h7v1h-7zM1174 332h2v1h-2zM1176 331h2v1h-2zM1178 330h2v1h-2zM1180 329h2v1h-2zM1182 328h2v1h-2zM1184 327h2v1h-2zM1186 326h2v1h-2zM1188 325h2v1h-2zM1190 324h2v1h-2zM1192 323h1v1h-1zM1193 322h2v1h-2zM1195 321h2v1h-2zM1197 320h1v1h-1zM1198 319h2v1h-2zM1200 318h1v1h-1zM1201 317h2v1h-2zM1203 316h2v1h-2zM1205 315h2v1h-2zM1207 314h2v1h-2zM1209 313h3v1h-3zM1212 312h2v1h-2zM1214 311h3v1h-3zM1217 310h3v1h-3zM1220 309h2v1h-2zM1222 308h2v1h-2zM1224 307h2v1h-2zM1226 306h3v1h-3zM1229 305h2v1h-2zM1231 304h2v1h-2zM1233 303h2v1h-2zM1235 302h2v1h-2zM1237 301h4v1h-4zM1241 300h3v1h-3zM1244 299h4v1h-4zM1248 298h3v1h-3zM1251 297h13v1h-13zM1264 298h8v1h-8zM1272 297h6v1h-6zM1278 296h5v1h-5zM1283 295h10v1h-10zM1293 296h30v1h-30zM1323 295h12v1h-12zM1335 294h4v1h-4zM1339 293h4v1h-4zM1343 292h4v1h-4zM1347 291h4v1h-4zM1351 290h4v1h-4zM1355 289h4v1h-4zM1359 288h4v1h-4zM1363 287h4v1h-4zM1367 286h2v1h-2zM1369 285h3v1h-3zM1372 284h3v1h-3zM1375 283h3v1h-3zM1378 282h2v1h-2zM1380 281h2v1h-2zM1382 280h2v1h-2zM1384 279h1v1h-1zM1385 278h1v1h-1zM1386 277h2v1h-2zM1388 276h1v1h-1zM1389 275h1v1h-1zM1390 274h2v1h-2zM1392 273h1v1h-1zM1393 272h1v1h-1zM1394 271h2v1h-2zM1396 270h1v1h-1zM1397 269h2v1h-2zM1399 268h1v1h-1zM1400 267h2v1h-2zM1402 266h2v1h-2zM1404 265h1v1h-1zM1405 264h2v1h-2zM1407 263h2v1h-2zM1409 262h1v1h-1zM1410 261h2v1h-2zM1412 260h2v1h-2zM1414 259h1v1h-1zM1415 258h1v1h-1zM1416 257h1v1h-1zM1417 256h2v1h-2zM1419 255h1v1h-1zM1420 254h1v1h-1zM1421 253h1v1h-1zM1422 252h2v1h-2zM1424 251h1v1h-1zM1425 250h1v1h-1zM1426 249h1v1h-1zM1427 248h2v1h-2zM1429 247h1v1h-1zM1430 246h2v1h-2zM1432 245h2v1h-2zM1434 244h1v1h-1zM1435 243h2v1h-2zM1437 242h2v1h-2zM1439 241h2v1h-2zM1441 240h2v1h-2zM1443 239h1v1h-1zM1444 238h17v1h-17z" fill="#3CB371"/>
<rect x="5" y="77" width="1867" height="1" fill="#FF0000"/>
<rect x="5" y="75" width="5" height="5" fill="#FF0000"/>
<rect x="6" y="76" width="3" height="3" fill="#FFFFFF"/>
<rect x="1867" y="75" width="5" height="5" fill="#FF0000"/>
<rect x="1868" y="76" width="3" height="3" fill="#FFFFFF"/>
<rect x="5" y="88" width="1867" height="1" fill="#FF0000"/>
<rect x="5" y="86" width="5" height="5" fill="#FF0000"/>
<rect x="6" y="87" width="3" height="3" fill="#FFFFFF"/>
<rect x="1867" y="86" width="5" height="5" fill="#FF0000"/>
<rect x="1868" y="87" width="3" height="3" fill="#FFFFFF"/>
<rect x="5" y="114" width="1867" height="1" fill="#FF0000"/>
<rect x="5" y="112" width="5" height="5" fill="#FF0000"/>
<rect x="6" y="113" width="3" height="3" fill="#FFFFFF"/>
<rect x="1867" y="112" width="5" height="5" fill="#FF0000"/>
<rect x="1868" y="113" width="3" height="3" fill="#FFFFFF"/>
<rect x="5" y="127" width="1867" height="1" fill="#FF0000"/>
<rect x="5" y="125" width="5" height="5" fill="#FF0000"/>
<rect x="6" y="126" width="3" height="3" fill="#FFFFFF"/>
<rect x="1867" y="125" width="5" height="5" fill="#FF0000"/>
<rect x="1868" y="126" width="3" height="3" fill="#FFFFFF"/>
<rect x="5" y="698" width="1" height="32" fill="#FF0000"/>
<rect x="20" y="706" width="2" height="24" fill="#FF0000"/>
<rect x="36" y="720" width="2" height="10" fill="#FF0000"/>
<rect x="52" y="726" width="2" height="4" fill="#FF0000"/>
<rect x="68" y="730" width="2" height="7" fill="#008000"/>
<rect x="84" y="730" width="2" height="12" fill="#008000"/>
<rect x="100" y="730" width="2" height="15" fill="#008000"/>
<rect x="116" y="730" width="2" height="20" fill="#008000"/>
<rect x="132" y="730" width="2" height="24" fill="#008000"/>
<rect x="148" y="730" width="2" height="25" fill="#008000"/>
<rect x="164" y="730" width="2" height="24" fill="#008000"/>
<rect x="180" y="730" width="2" height="20" fill="#008000"/>
<rect x="196" y="730" width="2" height="10" fill="#008000"/>
<rect x="212" y="730" width="2" height="5" fill="#008000"/>
<rect x="228" y="730" width="2" height="1" fill="#FF0000"/>
<rect x="244" y="727" width="2" height="3" fill="#FF0000"/>
<rect x="260" y="721" width="2" height="9" fill="#FF0000"/>
<rect x="276" y="718" width="2" height="12" fill="#FF0000"/>
<rect x="292" y="714" width="2" height="16" fill="#FF0000"/>
<rect x="308" y="699" width="2" height="31" fill="#FF0000"/>
<rect x="324" y="691" width="2" height="39" fill="#FF0000"/>
<rect x="340" y="685" width="2" height="45" fill="#FF0000"/>
<rect x="356" y="680" width="2" height="50" fill="#FF0000"/>
<rect x="372" y="682" width="2" height="48" fill="#FF0000"/>
<rect x="388" y="688" width="2" height="42" fill="#FF0000"/>
<rect x="404" y="697" width="2" height="33" fill="#FF0000"/>
<rect x="420" y="710" width="2" height="20" fill="#FF0000"/>
<rect x="436" y="721" width="2" height="9" fill="#FF0000"/>
<rect x="452" y="721" width="2" height="9" fill="#FF0000"/>
<rect x="468" y="729" width="2" height="1" fill="#FF0000"/>
<rect x="484" y="730" width="2" height="9" fill="#008000"/>
<rect x="500" y="730" width="2" height="8" fill="#008000"/>
<rect x="516" y="730" width="2" height="4" fill="#008000"/>
<rect x="532" y="730" width="2" height="3" fill="#008000"/>
<rect x="548" y="730" width="2" height="6" fill="#008000"/>
<rect x="564" y="730" width="2" height="5" fill="#008000"/>
<rect x="580" y="730" width="2" height="8" fill="#008000"/>
<rect x="596" y="730" width="2" height="15" fill="#008000"/>
<rect x="612" y="730" width="2" height="19" fill="#008000"/>
<rect x="628" y="730" width="2" height="20" fill="#008000"/>
<rect x="644" y="730" width="2" height="23" fill="#008000"/>
<rect x="660" y="730" width="2" height="23" fill="#008000"/>
<rect x="676" y="730" width="2" height="23" fill="#008000"/>
<rect x="692" y="730" width="2" height="26" fill="#008000"/>
<rect x="708" y="730" width="2" height="27" fill="#008000"/>
<rect x="724" y="730" width="2" height="27" fill="#008000"/>
<rect x="740" y="730" width="2" height="24" fill="#008000"/>
<rect x="756" y="730" width="2" height="27" fill="#008000"/>
<rect x="772" y="730" width="2" height="25" fill="#008000"/>
<rect x="788" y="730" width="2" height="10" fill="#008000"/>
<rect x="804" y="724" width="2" height="6" fill="#FF0000"/>
<rect x="820" y="717" width="2" height="13" fill="#FF0000"/>
<rect x="836" y="714" width="2" height="16" fill="#FF0000"/>
<rect x="852" y="710" width="2" height="20" fill="#FF0000"/>
<rect x="868" y="711" width="2" height="19" fill="#FF0000"/>
<rect x="884" y="714" width="2" height="16" fill="#FF0000"/>
<rect x="900" y="710" width="2" height="20" fill="#FF0000"/>
<rect x="916" y="707" width="2" height="23" fill="#FF0000"/>
<rect x="932" y="703" width="2" height="27" fill="#FF0000"/>
<rect x="948" y="699" width="2" height="31" fill="#FF0000"/>
<rect x="964" y="697" width="2" height="33" fill="#FF0000"/>
<rect x="980" y="684" width="2" height="46" fill="#FF0000"/>
<rect x="996" y="676" width="2" height="54" fill="#FF0000"/>
<rect x="1012" y="672" width="2" height="58" fill="#FF0000"/>
<rect x="1028" y="676" width="2" height="54" fill="#FF0000"/>
<rect x="1044" y="684" width="2" height="46" fill="#FF0000"/>
<rect x="1060" y="698" width="2" height="32" fill="#FF0000"/>
<rect x="1076" y="720" width="2" height="10" fill="#FF0000"/>
<rect x="1092" y="730" width="2" height="2" fill="#008000"/>
<rect x="1108" y="730" width="2" height="11" fill="#008000"/>
<rect x="1124" y="730" width="2" height="17" fill="#008000"/>
<rect x="1140" y="730" width="2" height="4" fill="#008000"/>
<rect x="1156" y="720" width="2" height="10" fill="#FF0000"/>
<rect x="1172" y="709" width="2" height="21" fill="#FF0000"/>
<rect x="1188" y="703" width="2" height="27" fill="#FF0000"/>
<rect x="1204" y="707" width="2" height="23" fill="#FF0000"/>
<rect x="1220" y="711" width="2" height="19" fill="#FF0000"/>
<rect x="1236" y="713" width="2" height="17" fill="#FF0000"/>
<rect x="1252" y="713" width="2" height="17" fill="#FF0000"/>
<rect x="1268" y="699" width="2" height="31" fill="#FF0000"/>
<rect x="1284" y="693" width="2" height="37" fill="#FF0000"/>
<rect x="1300" y="689" width="2" height="41" fill="#FF0000"/>
<rect x="1316" y="689" width="2" height="41" fill="#FF0000"/>
<rect x="1332" y="699" width="2" height="31" fill="#FF0000"/>
<rect x="1348" y="723" width="2" height="7" fill="#FF0000"/>
<rect x="1364" y="730" width="2" height="2" fill="#008000"/>
<rect x="1380" y="730" width="2" height="8" fill="#008000"/>
<rect x="1396" y="730" width="2" height="15" fill="#008000"/>
<rect x="1412" y="730" width="2" height="26" fill="#008000"/>
<rect x="1428" y="730" width="2" height="28" fill="#008000"/>
<rect x="1444" y="730" width="2" height="10" fill="#008000"/>
<rect x="1460" y="716" width="2" height="14" fill="#FF0000"/>
<path d="M5 670h18v1h-18zM23 671h3v1h-3zM26 672h2v1h-2zM28 673h2v1h-2zM30 674h2v1h-2zM32 675h3v1h-3zM35 676h2v1h-2zM37 677h6v1h-6zM43 678h9v1h-9zM52 679h4v1h-4zM56 680h3v1h-3zM59 681h3v1h-3zM62 682h4v1h-4zM66 683h3v1h-3zM69 684h4v1h-4zM73 685h4v1h-4zM77 686h3v1h-3zM80 687h4v1h-4zM84 688h7v1h-7zM91 689h8v1h-8zM99 690h4v1h-4zM103 691h3v1h-3zM106 692h3v1h-3zM109 693h2v1h-2zM111 694h3v1h-3zM114 695h3v1h-3zM117 696h3v1h-3zM120 697h3v1h-3zM123 698h3v1h-3zM126 699h3v1h-3zM129 700h3v1h-3zM132 701h3v1h-3zM135 702h3v1h-3zM138 703h3v1h-3zM141 704h4v1h-4zM145 705h3v1h-3zM148 706h3v1h-3zM151 707h4v1h-4zM155 708h4v1h-4zM159 709h4v1h-4zM163 710h10v1h-10zM173 711h10v1h-10zM183 710h4v1h-4zM187 709h4v1h-4zM191 708h4v1h-4zM195 707h6v1h-6zM201 706h8v1h-8zM209 705h8v1h-8zM217 704h8v1h-8zM225 703h13v1h-13zM238 702h9v1h-9zM247 701h4v1h-4zM251 700h4v1h-4zM255 699h4v1h-4zM259 698h5v1h-5zM264 697h5v1h-5zM269 696h5v1h-5zM274 695h4v1h-4zM278 694h4v1h-4zM282 693h3v1h-3zM285 692h4v1h-4zM289 691h3v1h-3zM292 690h2v1h-2zM294 689h1v1h-1zM295 688h1v1h-1zM296 687h1v1h-1zM297 686h2v1h-2zM299 685h1v1h-1zM300 684h1v1h-1zM301 683h1v1h-1zM302 682h1v1h-1zM303 681h1v1h-1zM304 680h1v1h-1zM305 679h1v1h-1zM306 678h1v1h-1zM307 677h1v1h-1zM308 676h1v1h-1zM309 675h2v1h-2zM311 674h1v1h-1zM312 673h1v1h-1zM313 672h1v1h-1zM314 671h2v1h-2zM316 670h1v1h-1zM317 669h1v1h-1zM318 668h1v1h-1zM319 667h2v1h-2zM321 666h1v1h-1zM322 665h1v1h-1zM323 664h1v1h-1zM324 663h2v1h-2zM326 662h1v1h-1zM327 661h2v1h-2zM329 660h1v1h-1zM330 659h2v1h-2zM332 658h2v1h-2zM334 657h1v1h-1zM335 656h2v1h-2zM337 655h1v1h-1zM338 654h2v1h-2zM340 653h2v1h-2zM342 652h1v1h-1zM343 651h2v1h-2zM345 650h2v1h-2zM347 649h1v1h-1zM348 648h2v1h-2zM350 647h2v1h-2zM352 646h1v1h-1zM353 645h2v1h-2zM355 644h2v1h-2zM357 643h2v1h-2zM359 642h2v1h-2zM361 641h2v1h-2zM363 640h2v1h-2zM365 639h3v1h-3zM368 638h2v1h-2zM370 637h2v1h-2zM372 636h4v1h-4zM376 635h5v1h-5zM381 634h5v1h-5zM386 633h23v1h-23zM409 634h6v1h-6zM415 635h6v1h-6zM421 636h7v1h-7zM428 637h7v1h-7zM435 638h4v1h-4zM439 637h4v1h-4zM443 636h4v1h-4zM447 635h4v1h-4zM451 634h5v1h-5zM456 635h4v1h-4zM460 636h4v1h-4zM464 637h4v1h-4zM468 638h4v1h-4zM472 639h3v1h-3zM475 640h3v1h-3zM478 641h3v1h-3zM481 642h4v1h-4zM485 643h5v1h-5zM490 642h13v1h-13zM503 641h9v1h-9zM512 640h11v1h-11zM523 639h14v1h-14zM537 640h4v1h-4zM541 641h3v1h-3zM544 642h4v1h-4zM548 643h8v1h-8zM556 644h10v1h-10zM566 645h6v1h-6zM572 646h6v1h-6zM578 647h5v1h-5zM583 648h2v1h-2zM585 649h2v1h-2zM587 650h2v1h-2zM589 651h3v1h-3zM592 652h2v1h-2zM594 653h2v1h-2zM596 654h3v1h-3zM599 655h2v1h-2zM601 656h3v1h-3zM604 657h2v1h-2zM606 658h3v1h-3zM609 659h2v1h-2zM611 660h4v1h-4zM615 661h6v1h-6zM621 662h6v1h-6zM627 663h4v1h-4zM631 664h3v1h-3zM634 665h4v1h-4zM638 666h3v1h-3zM641 667h3v1h-3zM644 668h4v1h-4zM648 669h5v1h-5zM653 670h5v1h-5zM658 671h5v1h-5zM663 672h5v1h-5zM668 673h4v1h-4zM672 674h5v1h-5zM677 675h2v1h-2zM679 676h2v1h-2zM681 677h3v1h-3zM684 678h2v1h-2zM686 679h2v1h-2zM688 680h2v1h-2zM690 681h2v1h-2zM692 682h3v1h-3zM695 683h2v1h-2zM697 684h3v1h-3zM700 685h3v1h-3zM703 686h2v1h-2zM705 687h3v1h-3zM708 688h3v1h-3zM711 689h4v1h-4zM715 690h4v1h-4zM719 691h4v1h-4zM723 692h5v1h-5zM728 693h5v1h-5zM733 694h6v1h-6zM739 695h4v1h-4zM743 696h2v1h-2zM745 697h2v1h-2zM747 698h3v1h-3zM750 699h2v1h-2zM752 700h2v1h-2zM754 701h2v1h-2zM756 702h4v1h-4zM760 703h5v1h-5zM765 704h6v1h-6zM771 705h3v1h-3zM774 704h2v1h-2zM776 703h2v1h-2zM778 702h1v1h-1zM779 701h2v1h-2zM781 700h2v1h-2zM783 699h1v1h-1zM784 698h2v1h-2zM786 697h2v1h-2zM788 696h1v1h-1zM789 695h2v1h-2zM791 694h2v1h-2zM793 693h2v1h-2zM795 692h2v1h-2zM797 691h2v1h-2zM799 690h1v1h-1zM800 689h2v1h-2zM802 688h2v1h-2zM804 687h3v1h-3zM807 686h4v1h-4zM811 685h4v1h-4zM815 684h5v1h-5zM820 683h4v1h-4zM824 682h4v1h-4zM828 681h3v1h-3zM831 680h4v1h-4zM835 679h5v1h-5zM840 678h5v1h-5zM845 677h6v1h-6zM851 676h7v1h-7zM858 675h8v1h-8zM866 674h21v1h-21zM887 673h2v1h-2zM889 672h2v1h-2zM891 671h3v1h-3zM894 670h2v1h-2zM896 669h2v1h-2zM898 668h3v1h-3zM901 667h2v1h-2zM903 666h2v1h-2zM905 665h2v1h-2zM907 664h2v1h-2zM909 663h2v1h-2zM911 662h2v1h-2zM913 661h2v1h-2zM915 660h3v1h-3zM918 659h2v1h-2zM920 658h2v1h-2zM922 657h2v1h-2zM924 656h2v1h-2zM926 655h2v1h-2zM928 654h2v1h-2zM930 653h2v1h-2zM932 652h2v1h-2zM934 651h2v1h-2zM936 650h2v1h-2zM938 649h2v1h-2zM940 648h2v1h-2zM942 647h2v1h-2zM944 646h2v1h-2zM946 645h2v1h-2zM948 644h3v1h-3zM951 643h2v1h-2zM953 642h3v1h-3zM956 641h3v1h-3zM959 640h3v1h-3zM962 639h3v1h-3zM965 638h1v1h-1zM966 637h1v1h-1zM967 636h1v1h-1zM968 635h1v1h-1zM969 634h1v1h-1zM970 633h1v1h-1zM971 632h1v1h-1zM972 631h1v1h-1zM973 630h1v1h-1zM974 629h1v1h-1zM975 628h1v1h-1zM976 627h1v1h-1zM977 626h1v1h-1zM978 625h1v1h-1zM979 624h1v1h-1zM980 623h1v1h-1zM981 622h1v1h-1zM982 621h1v1h-1zM983 620h1v1h-1zM984 619h1v1h-1zM985 618h1v1h-1zM986 617h1v1h-1zM987 616h1v1h-1zM988 615h1v1h-1zM989 614h1v1h-1zM990 613h1v1h-1zM991 612h2v1h-2zM993 611h1v1h-1zM994 610h1v1h-1zM995 609h1v1h-1zM996 608h1v1h-1zM997 607h1v1h-1zM998 606h2v1h-2zM1000 605h1v1h-1zM1001 604h1v1h-1zM1002 603h2v1h-2zM1004 602h1v1h-1zM1005 601h1v1h-1zM1006 600h2v1h-2zM1008 599h1v1h-1zM1009 598h1v1h-1zM1010 597h2v1h-2zM1012 596h1v1h-1zM1013 595h2v1h-2zM1015 594h3v1h-3zM1018 593h2v1h-2zM1020 592h3v1h-3zM1023 591h2v1h-2zM1025 590h3v1h-3zM1028 589h3v1h-3zM1031 588h5v1h-5zM1036 587h6v1h-6zM1042 586h7v1h-7zM1049 587h6v1h-6zM1055 588h5v1h-5zM1060 589h3v1h-3zM1063 590h1v1h-1zM1064 591h1v1h-1zM1065 592h2v1h-2zM1067 593h1v1h-1zM1068 594h2v1h-2zM1070 595h1v1h-1zM1071 596h2v1h-2zM1073 597h1v1h-1zM1074 598h1v1h-1zM1075 599h2v1h-2zM1077 600h3v1h-3zM1080 601h5v1h-5zM1085 602h5v1h-5zM1090 603h4v1h-4zM1094 604h4v1h-4zM1098 605h3v1h-3zM1101 606h3v1h-3zM1104 607h3v1h-3zM1107 608h4v1h-4zM1111 609h6v1h-6zM1117 610h7v1h-7zM1124 611h2v1h-2zM1126 610h1v1h-1zM1127 609h2v1h-2zM1129 608h1v1h-1zM1130 607h1v1h-1zM1131 606h2v1h-2zM1133 605h1v1h-1zM1134 604h1v1h-1zM1135 603h2v1h-2zM1137 602h1v1h-1zM1138 601h2v1h-2zM1140 600h1v1h-1zM1141 599h2v1h-2zM1143 598h1v1h-1zM1144 597h2v1h-2zM1146 596h2v1h-2zM1148 595h1v1h-1zM1149 594h2v1h-2zM1151 593h2v1h-2zM1153 592h1v1h-1zM1154 591h2v1h-2zM1156 590h2v1h-2zM1158 589h1v1h-1zM1159 588h2v1h-2zM1161 587h2v1h-2zM1163 586h1v1h-1zM1164 585h2v1h-2zM1166 584h2v1h-2zM1168 583h1v1h-1zM1169 582h2v1h-2zM1171 581h2v1h-2zM1173 580h2v1h-2zM1175 579h3v1h-3zM1178 578h3v1h-3zM1181 577h3v1h-3zM1184 576h3v1h-3zM1187 575h14v1h-14zM1201 576h14v1h-14zM1215 577h10v1h-10zM1225 576h7v1h-7zM1232 575h6v1h-6zM1238 574h5v1h-5zM1243 573h4v1h-4zM1247 572h4v1h-4zM1251 571h3v1h-3zM1254 570h1v1h-1zM1255 569h1v1h-1zM1256 567h1v2h-1zM1257 566h1v1h-1zM1258 565h1v1h-1zM1259 564h1v1h-1zM1260 563h1v1h-1zM1261 562h1v1h-1zM1262 561h1v1h-1zM1263 560h1v1h-1zM1264 558h1v2h-1zM1265 557h1v1h-1zM1266 556h1v1h-1zM1267 555h1v1h-1zM1268 554h1v1h-1zM1269 553h1v1h-1zM1270 552h1v1h-1zM1271 551h2v1h-2zM1273 550h2v1h-2zM1275 549h1v1h-1zM1276 548h2v1h-2zM1278 547h2v1h-2zM1280 546h1v1h-1zM1281 545h2v1h-2zM1283 544h1v1h-1zM1284 543h2v1h-2zM1286 542h2v1h-2zM1288 541h2v1h-2zM1290 540h1v1h-1zM1291 539h2v1h-2zM1293 538h2v1h-2zM1295 537h2v1h-2zM1297 536h1v1h-1zM1298 535h2v1h-2zM1300 534h2v1h-2zM1302 533h3v1h-3zM1305 532h2v1h-2zM1307 531h3v1h-3zM1310 530h3v1h-3zM1313 529h2v1h-2zM1315 528h7v1h-7zM1322 529h5v1h-5zM1327 530h5v1h-5zM1332 531h2v1h-2zM1334 532h1v1h-1zM1335 533h1v1h-1zM1336 534h1v1h-1zM1337 535h2v1h-2zM1339 536h1v1h-1zM1340 537h1v1h-1zM1341 538h1v1h-1zM1342 539h1v1h-1zM1343 540h1v1h-1zM1344 541h1v1h-1zM1345 542h1v1h-1zM1346 543h1v1h-1zM1347 544h1v1h-1zM1348 545h1v1h-1zM1349 546h5v1h-5zM1354 547h8v1h-8zM1362 548h7v1h-7zM1369 549h7v1h-7zM1376 550h7v1h-7zM1383 551h6v1h-6zM1389 552h6v1h-6zM1395 553h3v1h-3zM1398 554h2v1h-2zM1400 555h1v1h-1zM1401 556h2v1h-2zM1403 557h1v1h-1zM1404 558h2v1h-2zM1406 559h1v1h-1zM1407 560h2v1h-2zM1409 561h1v1h-1zM1410 562h2v1h-2zM1412 563h1v1h-1zM1413 564h4v1h-4zM1417 565h4v1h-4zM1421 566h3v1h-3zM1424 567h4v1h-4zM1428 568h2v1h-2zM1430 567h2v1h-2zM1432 566h1v1h-1zM1433 565h1v1h-1zM1434 564h2v1h-2zM1436 563h1v1h-1zM1437 562h2v1h-2zM1439 561h1v1h-1zM1440 560h2v1h-2zM1442 559h1v1h-1zM1443 558h1v1h-1zM1444 557h2v1h-2zM1446 556h1v1h-1zM1447 555h1v1h-1zM1448 554h1v1h-1zM1449 553h1v1h-1zM1450 552h1v1h-1zM1451 551h1v1h-1zM1452 550h1v1h-1zM1453 549h1v1h-1zM1454 548h1v1h-1zM1455 547h1v1h-1zM1456 546h1v1h-1zM1457 545h1v1h-1zM1458 544h1v1h-1zM1459 543h1v1h-1zM1460 542h1v1h-1z" fill="#0000FF"/>
<path d="M5 694h2v2h-2zM7 693h3v2h-3zM10 692h3v2h-3zM13 691h3v2h-3zM16 690h3v2h-3zM19 689h3v2h-3zM22 688h3v2h-3zM25 687h3v2h-3zM28 686h4v2h-4zM32 685h3v2h-3zM35 684h4v2h-4zM39 683h5v2h-5zM44 682h4v2h-4zM48 681h5v2h-5zM53 680h12v2h-12zM65 679h17v2h-17zM82 678h24v2h-24zM106 679h7v2h-7zM113 680h7v2h-7zM120 681h5v2h-5zM125 682h5v2h-5zM130 683h5v2h-5zM135 684h4v2h-4zM139 685h4v2h-4zM143 686h4v2h-4zM147 687h4v2h-4zM151 688h4v2h-4zM155 689h4v2h-4zM159 690h4v2h-4zM163 691h4v2h-4zM167 692h4v2h-4zM171 693h4v2h-4zM175 694h4v2h-4zM179 695h5v2h-5zM184 696h5v2h-5zM189 697h4v2h-4zM193 698h5v2h-5zM198 699h5v2h-5zM203 700h5v2h-5zM208 701h5v2h-5zM213 702h15v2h-15zM228 703h13v2h-13zM241 704h30v2h-30zM271 703h15v2h-15zM286 702h9v2h-9zM295 701h4v2h-4zM299 700h4v2h-4zM303 699h5v2h-5zM308 698h3v2h-3zM311 697h3v2h-3zM314 696h3v2h-3zM317 695h3v2h-3zM320 694h3v2h-3zM323 693h3v2h-3zM326 692h3v2h-3zM329 691h2v2h-2zM331 690h3v2h-3zM334 689h2v2h-2zM336 688h3v2h-3zM339 687h2v2h-2zM341 686h2v2h-2zM343 685h3v2h-3zM346 684h2v2h-2zM348 683h2v2h-2zM350 682h3v2h-3zM353 681h2v2h-2zM355 680h2v2h-2zM357 679h3v2h-3zM360 678h2v2h-2zM362 677h2v2h-2zM364 676h3v2h-3zM367 675h2v2h-2zM369 674h2v2h-2zM371 673h3v2h-3zM374 672h2v2h-2zM376 671h2v2h-2zM378 670h2v2h-2zM380 669h2v2h-2zM382 668h2v2h-2zM384 667h2v2h-2zM386 666h2v2h-2zM388 665h2v2h-2zM390 664h2v2h-2zM392 663h2v2h-2zM394 662h2v2h-2zM396 661h2v2h-2zM398 660h2v2h-2zM400 659h3v2h-3zM403 658h2v2h-2zM405 657h2v2h-2zM407 656h2v2h-2zM409 655h3v2h-3zM412 654h2v2h-2zM414 653h3v2h-3zM417 652h2v2h-2zM419 651h3v2h-3zM422 650h3v2h-3zM425 649h3v2h-3zM428 648h3v2h-3zM431 647h3v2h-3zM434 646h3v2h-3zM437 645h3v2h-3zM440 644h3v2h-3zM443 643h4v2h-4zM447 642h3v2h-3zM450 641h3v2h-3zM453 640h5v2h-5zM458 639h6v2h-6zM464 638h6v2h-6zM470 637h22v2h-22zM492 636h33v2h-33zM525 637h15v2h-15zM540 638h13v2h-13zM553 639h14v2h-14zM567 640h16v2h-16zM583 641h8v2h-8zM591 642h7v2h-7zM598 643h5v2h-5zM603 644h5v2h-5zM608 645h5v2h-5zM613 646h8v2h-8zM621 647h9v2h-9zM630 648h5v2h-5zM635 649h5v2h-5zM640 650h5v2h-5zM645 651h6v2h-6zM651 652h6v2h-6zM657 653h6v2h-6zM663 654h4v2h-4zM667 655h4v2h-4zM671 656h4v2h-4zM675 657h4v2h-4zM679 658h3v2h-3zM682 659h3v2h-3zM685 660h3v2h-3zM688 661h3v2h-3zM691 662h3v2h-3zM694 663h3v2h-3zM697 664h4v2h-4zM701 665h3v2h-3zM704 666h3v2h-3zM707 667h3v2h-3zM710 668h3v2h-3zM713 669h3v2h-3zM716 670h3v2h-3zM719 671h3v2h-3zM722 672h3v2h-3zM725 673h3v2h-3zM728 674h4v2h-4zM732 675h4v2h-4zM736 676h3v2h-3zM739 677h4v2h-4zM743 678h3v2h-3zM746 679h3v2h-3zM749 680h3v2h-3zM752 681h4v2h-4zM756 682h3v2h-3zM759 683h3v2h-3zM762 684h4v2h-4zM766 685h3v2h-3zM769 686h4v2h-4zM773 687h5v2h-5zM778 688h5v2h-5zM783 689h6v2h-6zM789 690h12v2h-12zM801 691h54v2h-54zM855 690h7v2h-7zM862 689h6v2h-6zM868 688h6v2h-6zM874 687h6v2h-6zM880 686h6v2h-6zM886 685h4v2h-4zM890 684h4v2h-4zM894 683h4v2h-4zM898 682h4v2h-4zM902 681h4v2h-4zM906 680h3v2h-3zM909 679h4v2h-4zM913 678h3v2h-3zM916 677h3v2h-3zM919 676h3v2h-3zM922 675h2v2h-2zM924 674h3v2h-3zM927 673h3v2h-3zM930 672h2v2h-2zM932 671h4v2h-4zM936 670h4v2h-4zM940 669h4v2h-4zM944 668h4v2h-4zM948 667h3v2h-3zM951 666h4v2h-4zM955 665h4v2h-4zM959 664h4v2h-4zM963 663h3v2h-3zM966 662h2v2h-2zM968 661h3v2h-3zM971 660h2v2h-2zM973 659h2v2h-2zM975 658h3v2h-3zM978 657h2v2h-2zM980 656h2v2h-2zM982 655h2v2h-2zM984 654h2v2h-2zM986 653h2v2h-2zM988 652h2v2h-2zM990 651h2v2h-2zM992 650h2v2h-2zM994 649h2v2h-2zM996 648h2v2h-2zM998 647h2v2h-2zM1000 646h2v2h-2zM1002 645h2v2h-2zM1004 644h2v2h-2zM1006 643h2v2h-2zM1008 642h2v2h-2zM1010 641h2v2h-2zM1012 640h2v2h-2zM1014 639h1v2h-1zM1015 638h2v2h-2zM1017 637h1v2h-1zM1018 636h2v2h-2zM1020 635h2v2h-2zM1022 634h1v2h-1zM1023 633h2v2h-2zM1025 632h1v2h-1zM1026 631h2v2h-2zM1028 630h2v2h-2zM1030 629h1v2h-1zM1031 628h2v2h-2zM1033 627h2v2h-2zM1035 626h1v2h-1zM1036 625h2v2h-2zM1038 624h2v2h-2zM1040 623h2v2h-2zM1042 622h1v2h-1zM1043 621h2v2h-2zM1045 620h2v2h-2zM1047 619h2v2h-2zM1049 618h2v2h-2zM1051 617h2v2h-2zM1053 616h2v2h-2zM1055 615h2v2h-2zM1057 614h2v2h-2zM1059 613h2v2h-2zM1061 612h3v2h-3zM1064 611h3v2h-3zM1067 610h3v2h-3zM1070 609h4v2h-4zM1074 608h3v2h-3zM1077 607h3v2h-3zM1080 606h3v2h-3zM1083 605h4v2h-4zM1087 604h3v2h-3zM1090 603h3v2h-3zM1093 602h5v2h-5zM1098 601h6v2h-6zM1104 600h5v2h-5zM1109 599h13v2h-13zM1122 598h18v2h-18zM1140 597h20v2h-20zM1160 596h19v2h-19zM1179 595h10v2h-10zM1189 594h17v2h-17zM1206 593h5v2h-5zM1211 592h5v2h-5zM1216 591h6v2h-6zM1222 590h4v2h-4zM1226 589h5v2h-5zM1231 588h5v2h-5zM1236 587h4v2h-4zM1240 586h5v2h-5zM1245 585h4v2h-4zM1249 584h4v2h-4zM1253 583h3v2h-3zM1256 582h3v2h-3zM1259 581h3v2h-3zM1262 580h2v2h-2zM1264 579h3v2h-3zM1267 578h3v2h-3zM1270 577h2v2h-2zM1272 576h2v2h-2zM1274 575h3v2h-3zM1277 574h2v2h-2zM1279 573h2v2h-2zM1281 572h3v2h-3zM1284 571h2v2h-2zM1286 570h3v2h-3zM1289 569h2v2h-2zM1291 568h3v2h-3zM1294 567h2v2h-2zM1296 566h3v2h-3zM1299 565h2v2h-2zM1301 564h3v2h-3zM1304 563h2v2h-2zM1306 562h3v2h-3zM1309 561h3v2h-3zM1312 560h2v2h-2zM1314 559h3v2h-3zM1317 558h3v2h-3zM1320 557h3v2h-3zM1323 556h3v2h-3zM1326 555h4v2h-4zM1330 554h3v2h-3zM1333 553h5v2h-5zM1338 552h5v2h-5zM1343 551h6v2h-6zM1349 550h5v2h-5zM1354 549h5v2h-5zM1359 548h5v2h-5zM1364 547h5v2h-5zM1369 546h6v2h-6zM1375 545h5v2h-5zM1380 544h10v2h-10zM1390 543h26v2h-26zM1416 544h4v2h-4zM1420 545h5v2h-5zM1425 546h4v2h-4zM1429 547h9v2h-9zM1438 548h9v2h-9zM1447 549h10v2h-10zM1457 550h5v2h-5z" fill="#FF0000"/>
<rect x="1874" y="71" width="38" height="11" fill="#FF0000"/>
<rect x="1874" y="82" width="38" height="11" fill="#FF0000"/>
<rect x="1874" y="93" width="38" height="10" fill="#000000"/>
<rect x="1874" y="108" width="38" height="11" fill="#FF0000"/>
<rect x="1874" y="121" width="38" height="11" fill="#FF0000"/>
<text x="20" y="16" textLength="54" lengthAdjust="spacingAndGlyphs" fill="#000000" stroke="#000000">XAUUSD,H4</text>
<text x="80" y="16" textLength="32.5" lengthAdjust="spacingAndGlyphs" fill="#000000" stroke="#000000">5179.07</text>
<text x="116" y="16" textLength="32.5" lengthAdjust="spacingAndGlyphs" fill="#000000" stroke="#000000">5234.57</text>
<text x="152" y="16" textLength="32.5" lengthAdjust="spacingAndGlyphs" fill="#000000" stroke="#000000">5156.93</text>
<text x="188" y="16" textLength="32.5" lengthAdjust="spacingAndGlyphs" fill="#000000" stroke="#000000">5230.42</text>
<text x="9.5" y="528" textLength="66" lengthAdjust="spacingAndGlyphs" fill="#000000" stroke="#000000">MACD(12,26,9)</text>
<text x="78" y="528" textLength="27.5" lengthAdjust="spacingAndGlyphs" fill="#000000" stroke="#000000">85.221</text>
<text x="109" y="528" textLength="27.5" lengthAdjust="spacingAndGlyphs" fill="#000000" stroke="#000000">80.583</text>
<text x="140" y="528" textLength="23" lengthAdjust="spacingAndGlyphs" fill="#000000" stroke="#000000">6.029</text>
<text x="166.5" y="528" textLength="22.5" lengthAdjust="spacingAndGlyphs" fill="#000000" stroke="#000000">0.000</text>
<text x="1878" y="19" textLength="33" lengthAdjust="spacingAndGlyphs" fill="#000000" stroke="#000000">5432.00</text>
<text x="1878" y="52" textLength="33" lengthAdjust="spacingAndGlyphs" fill="#000000" stroke="#000000">5350.40</text>
<text x="1878" y="151" textLength="33" lengthAdjust="spacingAndGlyphs" fill="#000000" stroke="#000000">5108.00</text>
<text x="1878" y="184" textLength="33" lengthAdjust="spacingAndGlyphs" fill="#000000" stroke="#000000">5026.40</text>
<text x="1878" y="217" textLength="33" lengthAdjust="spacingAndGlyphs" fill="#000000" stroke="#000000">4944.80</text>
<text x="1878" y="250" textLength="33" lengthAdjust="spacingAndGlyphs" fill="#000000" stroke="#000000">4863.20</text>
<text x="1878" y="283" textLength="33" lengthAdjust="spacingAndGlyphs" fill="#000000" stroke="#000000">4781.60</text>
<text x="1878" y="316" textLength="33" lengthAdjust="spacingAndGlyphs" fill="#000000" stroke="#000000">4700.00</text>
<text x="1878" y="349" textLength="33" lengthAdjust="spacingAndGlyphs" fill="#000000" stroke="#000000">4620.80</text>
<text x="1878" y="382" textLength="33" lengthAdjust="spacingAndGlyphs" fill="#000000" stroke="#000000">4539.20</text>
<text x="1878" y="415" textLength="33" lengthAdjust="spacingAndGlyphs" fill="#000000" stroke="#000000">4457.60</text>
<text x="1878" y="448" textLength="33" lengthAdjust="spacingAndGlyphs" fill="#000000" stroke="#000000">4376.00</text>
<text x="1878" y="481" textLength="33" lengthAdjust="spacingAndGlyphs" fill="#000000" stroke="#000000">4294.40</text>
<text x="1878" y="514" textLength="33" lengthAdjust="spacingAndGlyphs" fill="#000000" stroke="#000000">4215.20</text>
<text x="1878" y="80" textLength="33" lengthAdjust="spacingAndGlyphs" fill="#FFFFFF" stroke="#FFFFFF">5278.45</text>
<text x="1878" y="91" textLength="33" lengthAdjust="spacingAndGlyphs" fill="#FFFFFF" stroke="#FFFFFF">5252.00</text>
<text x="1878" y="101" textLength="33" lengthAdjust="spacingAndGlyphs" fill="#FFFFFF" stroke="#FFFFFF">5230.42</text>
<text x="1878" y="117" textLength="33" lengthAdjust="spacingAndGlyphs" fill="#FFFFFF" stroke="#FFFFFF">5187.63</text>
<text x="1878" y="130" textLength="33" lengthAdjust="spacingAndGlyphs" fill="#FFFFFF" stroke="#FFFFFF">5156.27</text>
<text x="1876" y="526" textLength="28" lengthAdjust="spacingAndGlyphs" fill="#000000" stroke="#000000">95.964</text>
<text x="1876" y="734" textLength="18" lengthAdjust="spacingAndGlyphs" fill="#000000" stroke="#000000">0.00</text>
<text x="1876" y="766" textLength="26" lengthAdjust="spacingAndGlyphs" fill="#000000" stroke="#000000">-17.36</text>
<text x="4" y="782" textLength="45" lengthAdjust="spacingAndGlyphs" fill="#000000" stroke="#000000">6 Jan 2026</text>
<text x="68" y="782" textLength="48" lengthAdjust="spacingAndGlyphs" fill="#000000" stroke="#000000">7 Jan 13:00</text>
<text x="132" y="782" textLength="48" lengthAdjust="spacingAndGlyphs" fill="#000000" stroke="#000000">8 Jan 05:00</text>
<text x="196" y="782" textLength="48" lengthAdjust="spacingAndGlyphs" fill="#000000" stroke="#000000">8 Jan 21:00</text>
<text x="260" y="782" textLength="48" lengthAdjust="spacingAndGlyphs" fill="#000000" stroke="#000000">9 Jan 13:00</text>
<text x="324" y="782" textLength="53" lengthAdjust="spacingAndGlyphs" fill="#000000" stroke="#000000">12 Jan 05:00</text>
<text x="388" y="782" textLength="53" lengthAdjust="spacingAndGlyphs" fill="#000000" stroke="#000000">12 Jan 21:00</text>
<text x="452" y="782" textLength="53" lengthAdjust="spacingAndGlyphs" fill="#000000" stroke="#000000">13 Jan 13:00</text>
<text x="516" y="782" textLength="53" lengthAdjust="spacingAndGlyphs" fill="#000000" stroke="#000000">14 Jan 05:00</text>
<text x="580" y="782" textLength="53" lengthAdjust="spacingAndGlyphs" fill="#000000" stroke="#000000">14 Jan 21:00</text>
<text x="644" y="782" textLength="53" lengthAdjust="spacingAndGlyphs" fill="#000000" stroke="#000000">15 Jan 13:00</text>
<text x="708" y="782" textLength="53" lengthAdjust="spacingAndGlyphs" fill="#000000" stroke="#000000">16 Jan 05:00</text>
<text x="772" y="782" textLength="53" lengthAdjust="spacingAndGlyphs" fill="#000000" stroke="#000000">16 Jan 21:00</text>
<text x="836" y="782" textLength="53" lengthAdjust="spacingAndGlyphs" fill="#000000" stroke="#000000">19 Jan 13:00</text>
<text x="900" y="782" textLength="53" lengthAdjust="spacingAndGlyphs" fill="#000000" stroke="#000000">20 Jan 05:00</text>
<text x="964" y="782" textLength="53" lengthAdjust="spacingAndGlyphs" fill="#000000" stroke="#000000">20 Jan 21:00</text>
<text x="1028" y="782" textLength="53" lengthAdjust="spacingAndGlyphs" fill="#000000" stroke="#000000">21 Jan 13:00</text>
<text x="1092" y="782" textLength="53" lengthAdjust="spacingAndGlyphs" fill="#000000" stroke="#000000">22 Jan 05:00</text>
<text x="1156" y="782" textLength="53" lengthAdjust="spacingAndGlyphs" fill="#000000" stroke="#000000">22 Jan 21:00</text>
<text x="1220" y="782" textLength="53" lengthAdjust="spacingAndGlyphs" fill="#000000" stroke="#000000">23 Jan 13:00</text>
<text x="1284" y="782" textLength="53" lengthAdjust="spacingAndGlyphs" fill="#000000" stroke="#000000">26 Jan 05:00</text>
<text x="1348" y="782" textLength="53" lengthAdjust="spacingAndGlyphs" fill="#000000" stroke="#000000">26 Jan 21:00</text>
<text x="1412" y="782" textLength="53" lengthAdjust="spacingAndGlyphs" fill="#000000" stroke="#000000">27 Jan 13:00</text>
</svg>
</body></html>
